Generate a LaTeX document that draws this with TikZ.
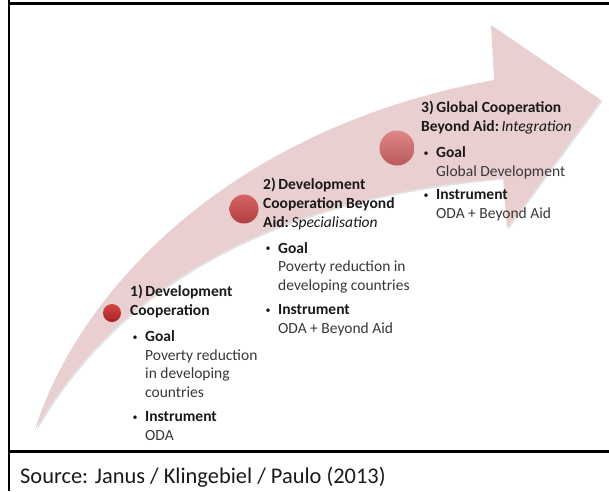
\documentclass[tikz,border=0pt]{standalone}
\usepackage{fontspec}
\setmainfont{Carlito}
\usetikzlibrary{shadows}
\definecolor{arrowc}{RGB}{233,207,207}
\definecolor{titlec}{RGB}{25,25,25}
\definecolor{bodyc}{RGB}{55,55,55}
\newcommand\ttl[1]{{\color{titlec}\bfseries #1}}
\newcommand\bul{\makebox[15pt][l]{\hspace{2.5pt}\raisebox{1.2pt}{\color{titlec}\fontsize{10}{10}\selectfont •}}}
\newcommand\ind{\hspace*{15pt}}
\begin{document}
\begin{tikzpicture}[x=1pt,y=-1pt,
  txt/.style={anchor=north west, inner sep=0pt, align=left, text=bodyc,
    font=\fontsize{15.5}{18.8}\selectfont},
  frame/.style={line width=2.3pt, black}]
\useasboundingbox (0,0) rectangle (609,491);
% arrow
\path[fill=arrowc, drop shadow={opacity=0.22, shadow xshift=1.5pt, shadow yshift=-1.5pt}]
  (35,430) .. controls (75,300) and (220,130) .. (494,80)
  -- (491,25) -- (601,100) -- (507,228) -- (503,178)
  .. controls (250,200) and (110,300) .. (35,430) -- cycle;
% dots
\node[circle, inner sep=0pt, minimum size=18pt, shade, top color={rgb,255:red,212;green,70;blue,70}, bottom color={rgb,255:red,168;green,32;blue,35}] (c1) at (112,313) {};
\node[circle, inner sep=0pt, minimum size=29pt, shade, top color={rgb,255:red,215;green,100;blue,100}, bottom color={rgb,255:red,178;green,62;blue,64}] (c2) at (244,209) {};
\node[circle, inner sep=0pt, minimum size=35pt, shade, top color={rgb,255:red,222;green,135;blue,135}, bottom color={rgb,255:red,185;green,90;blue,92}] (c3) at (397,148) {};
% texts
\node[txt] (b1) at (130,285) {%
\ttl{1)\,Development}\\
\ttl{Cooperation}\\[7pt]
\bul\ttl{Goal}\\
\ind Poverty reduction\\
\ind in developing\\
\ind countries\\[5pt]
\bul\ttl{Instrument}\\
\ind ODA};
\node[txt] (b2) at (263,178) {%
\ttl{2)\,Development}\\
\ttl{Cooperation Beyond}\\
\ttl{Aid:\,}{\color{titlec}\itshape Specialisation}\\[7pt]
\bul\ttl{Goal}\\
\ind Poverty reduction in\\
\ind developing countries\\[5pt]
\bul\ttl{Instrument}\\
\ind ODA + Beyond Aid};
\node[txt] (b3) at (421,101) {%
\ttl{3)\,Global Cooperation}\\
\ttl{Beyond Aid:\,}{\color{titlec}\itshape Integration}\\[7pt]
\bul\ttl{Goal}\\
\ind Global Development\\[5pt]
\bul\ttl{Instrument}\\
\ind ODA + Beyond Aid};
% frame
\draw[frame] (8,3.5) -- (609,3.5);
\draw[frame] (9,0) -- (9,491);
\draw[frame] (9,451.5) -- (609,451.5);
\node[anchor=base west, inner sep=0pt, text=titlec, font=\fontsize{22.4}{26}\selectfont] (src) at (20,483) {Source: Janus / Klingebiel / Paulo (2013)};
\end{tikzpicture}
\end{document}
